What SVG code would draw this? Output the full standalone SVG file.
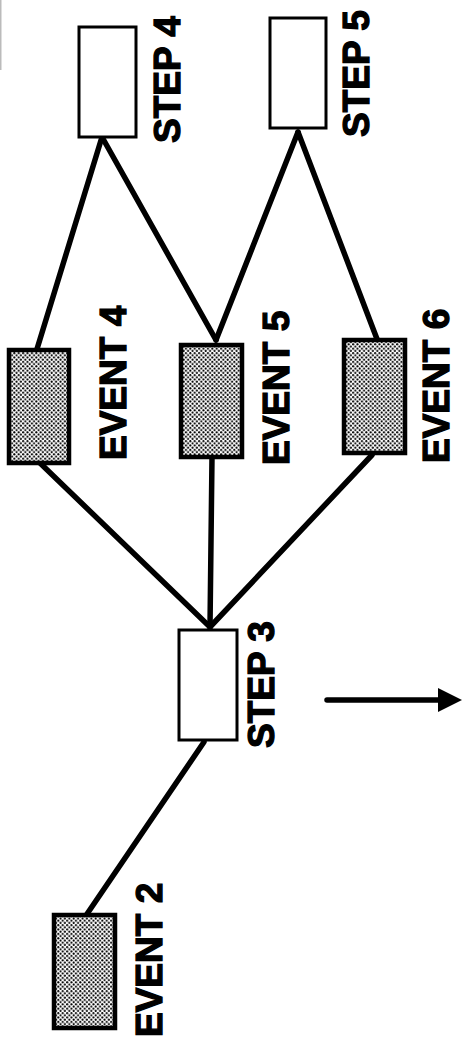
<svg xmlns="http://www.w3.org/2000/svg" width="465" height="1046" viewBox="0 0 465 1046">
<defs>
<pattern id="dots" patternUnits="userSpaceOnUse" width="4.4" height="4.4">
<rect width="4.4" height="4.4" fill="#fff"/>
<circle cx="1.1" cy="1.1" r="1.05" fill="#000"/>
<circle cx="3.3" cy="3.3" r="1.05" fill="#000"/>
</pattern>
<marker id="arrow" markerUnits="userSpaceOnUse" markerWidth="26" markerHeight="26" refX="2" refY="12" orient="auto">
<path d="M0,0 L24,12 L0,24 Z" fill="#000"/>
</marker>
<style>
.step{fill:#fff;stroke:#000;stroke-width:3}
.event{fill:url(#dots);stroke:#000;stroke-width:4.5}
.lbl{font-family:"Liberation Sans",Arial,sans-serif;font-weight:bold;font-size:37px;fill:#000;stroke:#000;stroke-width:1.3}
.conn{stroke:#000;stroke-width:5.5;fill:none;stroke-linecap:round}
</style>
</defs>
<rect width="465" height="1046" fill="#fff"/>
<rect x="0" y="0" width="1.5" height="70" fill="#bbb"/>
<g id="connectors">
<line class="conn" x1="87" y1="914" x2="204" y2="742"/>
<line class="conn" x1="40" y1="463" x2="210" y2="627"/>
<line class="conn" x1="212" y1="457" x2="210" y2="627"/>
<line class="conn" x1="372" y1="455" x2="210" y2="627"/>
<line class="conn" x1="37" y1="349" x2="102" y2="137"/>
<line class="conn" x1="216" y1="340" x2="102" y2="137"/>
<line class="conn" x1="216" y1="340" x2="298" y2="132"/>
<line class="conn" x1="377" y1="339" x2="298" y2="132"/>
<line class="conn" x1="327" y1="700" x2="440" y2="700" stroke-width="6.5" marker-end="url(#arrow)"/>
</g>
<g id="step4">
<rect class="step" x="79" y="27" width="57" height="110"/>
<text class="lbl" transform="translate(180,143) rotate(-90)">STEP 4</text>
</g>
<g id="step5">
<rect class="step" x="270" y="18" width="56" height="110"/>
<text class="lbl" transform="translate(369,137) rotate(-90)">STEP 5</text>
</g>
<g id="event4">
<rect class="event" x="9" y="350" width="60" height="113"/>
<text class="lbl" transform="translate(126,460) rotate(-90)">EVENT 4</text>
</g>
<g id="event5">
<rect class="event" x="181" y="345" width="61" height="112"/>
<text class="lbl" transform="translate(289,465) rotate(-90)">EVENT 5</text>
</g>
<g id="event6">
<rect class="event" x="344" y="340" width="61" height="113"/>
<text class="lbl" transform="translate(449,463) rotate(-90)">EVENT 6</text>
</g>
<g id="step3">
<rect class="step" x="179" y="630" width="58" height="110"/>
<text class="lbl" transform="translate(274,748) rotate(-90)">STEP 3</text>
</g>
<g id="event2">
<rect class="event" x="54" y="915" width="61" height="113"/>
<text class="lbl" transform="translate(162,1037) rotate(-90)">EVENT 2</text>
</g>
</svg>
